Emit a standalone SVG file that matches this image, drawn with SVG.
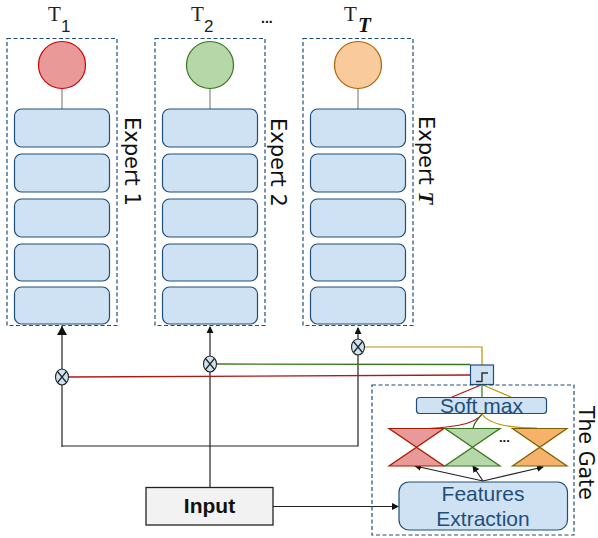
<svg xmlns="http://www.w3.org/2000/svg" width="598" height="538" viewBox="0 0 598 538">
<style>
.box{fill:none;stroke:#1f4e79;stroke-width:1.2;stroke-dasharray:4 2.500}
.lay{fill:#cfe2f3;stroke:#1f4e79;stroke-width:1.2}
.stem{stroke:#888;stroke-width:1.2;fill:none}
.k{stroke:#222;stroke-width:1.2;fill:none}
.t{font-family:"Liberation Serif",serif;fill:#222;font-size:21px}
.sub{font-family:"Liberation Sans",sans-serif;fill:#222;font-size:17px}
.st{font-family:"Liberation Serif",serif;fill:#111;font-weight:bold;font-style:italic}
.s{font-family:"DejaVu Sans",sans-serif;fill:#111;font-size:21px}
.d{font-family:"Liberation Sans",sans-serif;fill:#111}
.b{font-family:"Liberation Sans",sans-serif;fill:#1f4e79;font-size:21px}
.mul{fill:#cfe2f3;stroke:#222;stroke-width:1.1}
</style>
<defs>
<marker id="a" markerWidth="8" markerHeight="8" refX="6" refY="3.500" orient="auto" markerUnits="userSpaceOnUse"><path d="M0 0L7 3.500L0 7z" fill="#111"/></marker>
<marker id="big" markerWidth="10" markerHeight="10" refX="9" refY="5" orient="auto" markerUnits="userSpaceOnUse"><path d="M0 0L9 5L0 10z" fill="#111"/></marker>
</defs>
<g id="connectors">
<path class="k" d="M62 447V326" marker-end="url(#big)"/>
<path class="k" d="M62 446H358V328" marker-end="url(#a)"/>
<path class="k" d="M210 487V327" marker-end="url(#a)"/>
<path class="k" d="M273 506.500H398" marker-end="url(#a)"/>
<path d="M68 377L470 375" stroke="#b01818" stroke-width="1.300" fill="none"/>
<path d="M216 364L470 364.500" stroke="#38761d" stroke-width="1.300" fill="none"/>
<path d="M364 347H482V365" stroke="#bf9000" stroke-width="1.200" fill="none"/>
<path d="M481 385L452 397" stroke="#b01818" stroke-width="1.200" fill="none"/>
<path d="M482 385V397" stroke="#38761d" stroke-width="1.200" fill="none"/>
<path d="M483 385L511 397" stroke="#bf9000" stroke-width="1.200" fill="none"/>
<path d="M482 414C475 425 450 428 414 429" stroke="#b01818" stroke-width="1.200" fill="none"/>
<path d="M482 414C478 420 475 420 473 428" stroke="#38761d" stroke-width="1.200" fill="none"/>
<path d="M482 414C490 426 515 428 537 428" stroke="#bf9000" stroke-width="1.200" fill="none"/>
<path class="k" d="M483 481L415 466" marker-end="url(#a)"/>
<path class="k" d="M483 481L473 466" marker-end="url(#a)"/>
<path class="k" d="M483 481L543 467" marker-end="url(#a)"/>
</g>
<g id="expert-1">
<rect class="box" x="7" y="38.500" width="110" height="287"/>
<path class="stem" d="M62 89V109"/>
<circle cx="62" cy="65" r="23.500" fill="#ea9999" stroke="#cc0000" stroke-width="1.200"/>
<rect class="lay" x="14.500" y="109" width="95" height="38" rx="7"/>
<rect class="lay" x="14.500" y="154" width="95" height="38" rx="7"/>
<rect class="lay" x="14.500" y="199" width="95" height="38" rx="7"/>
<rect class="lay" x="14.500" y="244" width="95" height="37" rx="7"/>
<rect class="lay" x="14.500" y="287" width="95" height="37" rx="7"/>
<text class="t" x="48" y="21">T</text><text class="sub" x="61" y="32">1</text>
<text class="s" transform="translate(125 117) rotate(90)">Expert 1</text>
</g>
<g id="expert-2">
<rect class="box" x="155" y="38.500" width="110" height="287"/>
<path class="stem" d="M210 89V109"/>
<circle cx="210" cy="65" r="23.500" fill="#b6d7a8" stroke="#38761d" stroke-width="1.200"/>
<rect class="lay" x="162.500" y="109" width="95" height="38" rx="7"/>
<rect class="lay" x="162.500" y="154" width="95" height="38" rx="7"/>
<rect class="lay" x="162.500" y="199" width="95" height="38" rx="7"/>
<rect class="lay" x="162.500" y="244" width="95" height="37" rx="7"/>
<rect class="lay" x="162.500" y="287" width="95" height="37" rx="7"/>
<text class="t" x="191" y="21">T</text><text class="sub" x="204" y="32">2</text>
<text class="s" transform="translate(271 118) rotate(90)">Expert 2</text>
</g>
<text id="dots-top" class="d" x="261" y="23" font-size="14" font-weight="bold">...</text>
<g id="expert-t">
<rect class="box" x="303" y="38.500" width="110" height="287"/>
<path class="stem" d="M358 89V109"/>
<circle cx="358" cy="65" r="23.500" fill="#f9cb9c" stroke="#b45f06" stroke-width="1.200"/>
<rect class="lay" x="310.500" y="109" width="95" height="38" rx="7"/>
<rect class="lay" x="310.500" y="154" width="95" height="38" rx="7"/>
<rect class="lay" x="310.500" y="199" width="95" height="38" rx="7"/>
<rect class="lay" x="310.500" y="244" width="95" height="37" rx="7"/>
<rect class="lay" x="310.500" y="287" width="95" height="37" rx="7"/>
<text class="t" x="344" y="21">T</text><text class="st" x="358" y="32" font-size="21">T</text>
<text class="s" transform="translate(419 116) rotate(90)">Expert <tspan class="st">T</tspan></text>
</g>
<g id="mul-1"><ellipse class="mul" cx="62" cy="377" rx="6.500" ry="8"/><path class="k" d="M57.500 371.500L66.500 382.500M66.500 371.500L57.500 382.500"/></g>
<g id="mul-2"><ellipse class="mul" cx="210" cy="364" rx="6.500" ry="8"/><path class="k" d="M205.500 358.500L214.500 369.500M214.500 358.500L205.500 369.500"/></g>
<g id="mul-3"><ellipse class="mul" cx="358" cy="347" rx="6.500" ry="8"/><path class="k" d="M353.500 341.500L362.500 352.500M362.500 341.500L353.500 352.500"/></g>
<g id="switch"><rect x="470.500" y="365" width="23" height="19.500" fill="#cfe2f3" stroke="#1f4e79" stroke-width="1.200"/><path d="M476 381.500H482V373H488" stroke="#333" stroke-width="1.500" fill="none"/></g>
<g id="input"><rect x="146" y="487.500" width="127" height="37.500" fill="#f2f2f2" stroke="#222" stroke-width="1.300"/><text x="209.500" y="513" text-anchor="middle" font-size="21" font-weight="bold" font-family="Liberation Sans, sans-serif" fill="#111">Input</text></g>
<g id="gate">
<rect class="box" x="372" y="385" width="202" height="150"/>
<rect class="lay" x="416.500" y="397.500" width="130" height="16" rx="3"/>
<text class="b" x="481.500" y="413" text-anchor="middle">Soft max</text>
<path d="M389 428.500H444L389 466H444z" fill="#ea9999" stroke="#a61c00" stroke-width="1.200"/>
<path d="M445 428.500H500L445 466H500z" fill="#b6d7a8" stroke="#38761d" stroke-width="1.200"/>
<path d="M512.500 428.500H567L512.500 466H567z" fill="#f6b26b" stroke="#7f6000" stroke-width="1.200"/>
<text class="d" x="499" y="442" font-size="13" font-weight="bold">...</text>
<rect class="lay" x="399" y="482" width="168.500" height="48" rx="10"/>
<text class="b" x="483" y="501" text-anchor="middle">Features</text>
<text class="b" x="483" y="526" text-anchor="middle">Extraction</text>
<text class="s" transform="translate(578.500 406) rotate(90)" style="font-size:20.500px">The Gate</text>
</g>
</svg>
